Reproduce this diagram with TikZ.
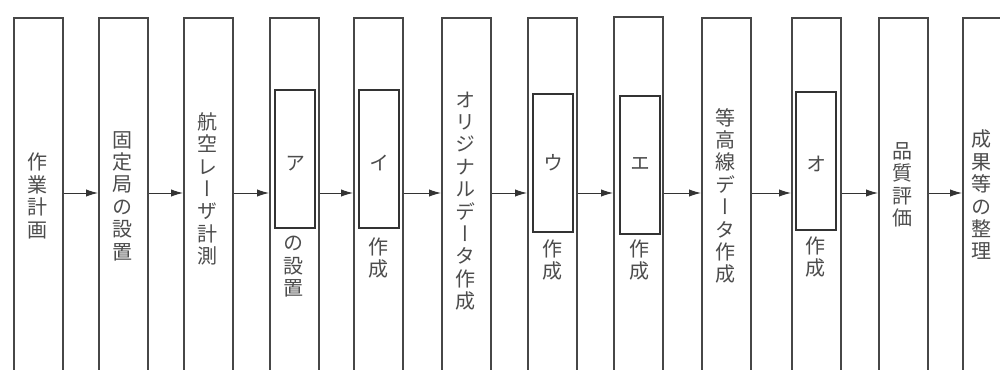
\documentclass[tikz,border=0pt]{standalone}
\usepackage{fontspec}
\usetikzlibrary{arrows.meta}
\newfontfamily\vjp[RawFeature=+vert]{Noto Sans CJK JP}
\tikzset{
  obox/.style={draw=black!72, line width=1.5pt, minimum width=36.75pt, minimum height=300pt, inner sep=0pt, anchor=north west, fill=white},
  ibox/.style={draw=black!80, line width=1.5pt, minimum width=30pt, minimum height=103.5pt, inner sep=0pt, anchor=north west},
  vtxt/.style={text=black!70, align=center, inner sep=0pt, font=\vjp\fontsize{15}{16.8}\selectfont},
  ktxt/.style={text=black!70, inner sep=0pt, font=\vjp\fontsize{15}{16.8}\selectfont},
  arr/.style={draw=black!80, line width=0.7pt, -{Latex[length=9pt,width=5.5pt]}}
}
\begin{document}
\begin{tikzpicture}[x=0.75pt,y=-0.75pt]
\useasboundingbox (0,0) rectangle (1000,369);
\clip (0,0) rectangle (1000,369);
\fill[white] (0,0) rectangle (1000,369);
\coordinate (mid) at (0,193);
% outer boxes
\node[obox] (b1) at (13,17) {};
\node[obox] (b2) at (98,17) {};
\node[obox] (b3) at (183,17) {};
\node[obox] (b4) at (269,17) {};
\node[obox] (b5) at (353,17) {};
\node[obox] (b6) at (441,17) {};
\node[obox] (b7) at (527,17) {};
\node[obox] (b8) at (613,16) {};
\node[obox] (b9) at (701,17) {};
\node[obox] (b10) at (791,17) {};
\node[obox] (b11) at (878,17) {};
\node[obox] (b12) at (962,17) {};
% inner boxes
\node[ibox] (i4) at (274,89) {};
\node[ibox] (i5) at (358,89) {};
\node[ibox] (i7) at (532,93) {};
\node[ibox] (i8) at (619,95) {};
\node[ibox] (i10) at (795,91) {};
% inner letters
\node[ktxt] (k4) at (i4.center |- 0,164) {ア};
\node[ktxt] (k5) at (i5.center |- 0,163) {イ};
\node[ktxt] (k7) at (i7.center |- 0,163) {ウ};
\node[ktxt] (k8) at (i8.center |- 0,164) {エ};
\node[ktxt] (k10) at (i10.center |- 0,164) {オ};
% texts
\node[vtxt] (t1) at (37.5,196) {作\\業\\計\\画};
\node[vtxt] (t2) at (122,196) {固\\定\\局\\の\\設\\置};
\node[vtxt] (t3) at (207,189) {航\\空\\レ\\ー\\ザ\\計\\測};
\node[vtxt] (t4) at (293,267) {の\\設\\置};
\node[vtxt] (t5) at (378,258) {作\\成};
\node[vtxt] (t6) at (465,201) {オ\\リ\\ジ\\ナ\\ル\\デ\\ー\\タ\\作\\成};
\node[vtxt] (t7) at (552,260) {作\\成};
\node[vtxt] (t8) at (639,260) {作\\成};
\node[vtxt] (t9) at (725,196) {等\\高\\線\\デ\\ー\\タ\\作\\成};
\node[vtxt] (t10) at (815,257) {作\\成};
\node[vtxt] (t11) at (902,185) {品\\質\\評\\価};
\node[vtxt] (t12) at (981,195) {成\\果\\等\\の\\整\\理};
% arrows
\draw[arr] (b1.east |- mid) -- (b2.west |- mid);
\draw[arr] (b2.east |- mid) -- (b3.west |- mid);
\draw[arr] (b3.east |- mid) -- (b4.west |- mid);
\draw[arr] (b4.east |- mid) -- (b5.west |- mid);
\draw[arr] (b5.east |- mid) -- (b6.west |- mid);
\draw[arr] (b6.east |- mid) -- (b7.west |- mid);
\draw[arr] (b7.east |- mid) -- (b8.west |- mid);
\draw[arr] (b8.east |- mid) -- (b9.west |- mid);
\draw[arr] (b9.east |- mid) -- (b10.west |- mid);
\draw[arr] (b10.east |- mid) -- (b11.west |- mid);
\draw[arr] (b11.east |- mid) -- (b12.west |- mid);
\end{tikzpicture}
\end{document}
